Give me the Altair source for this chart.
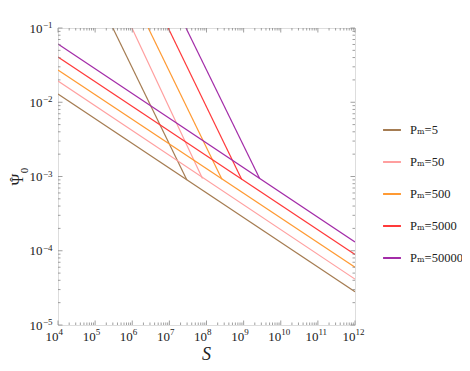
import altair as alt
import pandas as pd

# ---- data ----
PM_LABELS = ["Pₘ=5", "Pₘ=50", "Pₘ=500", "Pₘ=5000", "Pₘ=50000"]
COLORS = ["#a57c52", "#ff9f9f", "#ff9a33", "#ff3a3a", "#a32ca8"]

S_MIN, S_MAX = 1e4, 1e12
PSI_AT_S_MIN = [0.0129, 0.0193, 0.0272, 0.0407, 0.0608]
PSI_AT_S_MAX = [2.8e-5, 4.15e-5, 6.0e-5, 8.9e-5, 1.31e-4]
STEEP_TOP_S = [3.0e5, 9.8e5, 2.7e6, 9.3e6, 2.8e7]
STEEP_TOP_PSI = [0.1, 0.1, 0.1, 0.1, 0.1]
CORNER_S = [2.96e7, 7.8e7, 2.6e8, 8.9e8, 2.7e9]
CORNER_PSI = [9.0e-4, 9.4e-4, 9.2e-4, 9.1e-4, 9.4e-4]

X_TICKS = [1e4, 1e5, 1e6, 1e7, 1e8, 1e9, 1e10, 1e11, 1e12]
X_EXP = ["4", "5", "6", "7", "8", "9", "10", "11", "12"]
Y_TICKS = [1e-5, 1e-4, 1e-3, 1e-2, 1e-1]
Y_EXP = ["−5", "−4", "−3", "−2", "−1"]
MINOR_MULT = [2, 3, 4, 5, 6, 7, 8, 9]
BASE = "10"
X_TITLE = "S"
Y_TITLE_MAIN, Y_TITLE_HAT, Y_TITLE_SUB = "Ψ", "ˆ", "0"

W, H = 297, 297
FONT = "Liberation Serif"
TXT = "#222"

rows = []
for i, lab in enumerate(PM_LABELS):
    rows.append(dict(pm=lab, seg=f"{i}a", S=S_MIN, psi=PSI_AT_S_MIN[i], o=0))
    rows.append(dict(pm=lab, seg=f"{i}a", S=S_MAX, psi=PSI_AT_S_MAX[i], o=1))
    rows.append(dict(pm=lab, seg=f"{i}b", S=STEEP_TOP_S[i], psi=STEEP_TOP_PSI[i], o=0))
    rows.append(dict(pm=lab, seg=f"{i}b", S=CORNER_S[i], psi=CORNER_PSI[i], o=1))
df = pd.DataFrame(rows)

xminor = [m * t for t in X_TICKS[:-1] for m in MINOR_MULT]
yminor = [m * t for t in Y_TICKS[:-1] for m in MINOR_MULT]
xt = pd.DataFrame({"S": X_TICKS + xminor, "len": [4.5] * len(X_TICKS) + [2.5] * len(xminor)})
yt = pd.DataFrame({"psi": Y_TICKS + yminor, "len": [4.5] * len(Y_TICKS) + [2.5] * len(yminor)})
xl = pd.DataFrame({"S": X_TICKS, "base": [BASE] * len(X_TICKS), "exp": X_EXP})
yl = pd.DataFrame({"psi": Y_TICKS, "base": [BASE] * len(Y_TICKS), "exp": Y_EXP})

xscale = alt.Scale(type="log", domain=[S_MIN, S_MAX], nice=False)
yscale = alt.Scale(type="log", domain=[1e-5, 1e-1], nice=False)


def X(f="S:Q"):
    return alt.X(f, scale=xscale, axis=None)


def Y(f="psi:Q"):
    return alt.Y(f, scale=yscale, axis=None)


lines = alt.Chart(df).mark_line(strokeWidth=1.2, clip=True).encode(
    x=X(), y=Y(),
    color=alt.Color("pm:N", sort=PM_LABELS,
                    scale=alt.Scale(domain=PM_LABELS, range=COLORS),
                    legend=alt.Legend(title=None, orient="none", legendX=324, legendY=92,
                                      symbolType="stroke", symbolSize=320, symbolStrokeWidth=2,
                                      labelFont="Liberation Serif, DejaVu Serif", labelFontSize=12.5,
                                      labelColor=TXT, labelOffset=8, rowPadding=15, padding=0)),
    detail="seg:N",
    order="o:Q",
)

tc = "#888"
bottom = alt.Chart(xt).transform_calculate(y0=f"{H}", y1=f"{H} - datum.len").mark_rule(color=tc, strokeWidth=0.8).encode(
    x=X(), y=alt.Y("y0:Q", scale=None, axis=None), y2="y1:Q")
top = alt.Chart(xt).transform_calculate(y0="0", y1="datum.len").mark_rule(color=tc, strokeWidth=0.8).encode(
    x=X(), y=alt.Y("y0:Q", scale=None, axis=None), y2="y1:Q")
left = alt.Chart(yt).transform_calculate(x0="0", x1="datum.len").mark_rule(color=tc, strokeWidth=0.8).encode(
    y=Y(), x=alt.X("x0:Q", scale=None, axis=None), x2="x1:Q")
right = alt.Chart(yt).transform_calculate(x0=f"{W}", x1=f"{W} - datum.len").mark_rule(color=tc, strokeWidth=0.8).encode(
    y=Y(), x=alt.X("x0:Q", scale=None, axis=None), x2="x1:Q")

# tick labels: "10" with a raised exponent
xbase = alt.Chart(xl).mark_text(align="right", baseline="alphabetic", dx=0.5, font=FONT,
                                fontSize=13, color=TXT).encode(
    x=X(), y=alt.value(H + 16), text="base:N")
xexp = alt.Chart(xl).mark_text(align="left", baseline="alphabetic", dx=0.5, font=FONT,
                               fontSize=9, color=TXT).encode(
    x=X(), y=alt.value(H + 10), text="exp:N")
ybase = alt.Chart(yl).mark_text(align="right", baseline="alphabetic", dy=4.5, font=FONT,
                                fontSize=13, color=TXT).encode(
    y=Y(), x=alt.value(-15.5), text="base:N")
yexp = alt.Chart(yl).mark_text(align="right", baseline="alphabetic", dy=0, font=FONT,
                               fontSize=9, color=TXT).encode(
    y=Y(), x=alt.value(-5.5), text="exp:N")

# axis titles
ttl = pd.DataFrame({"xt": [X_TITLE], "ym": [Y_TITLE_MAIN], "yh": [Y_TITLE_HAT], "ys": [Y_TITLE_SUB]})
xtitle = alt.Chart(ttl).mark_text(
    font=FONT, fontSize=18, fontStyle="italic", color=TXT, baseline="alphabetic",
    x=W / 2, y=H + 35).encode(text="xt:N")
ytitle_main = alt.Chart(ttl).mark_text(
    font=FONT, fontSize=16, color=TXT, angle=270, baseline="middle",
    x=-40, y=H / 2 + 3).encode(text="ym:N")
ytitle_hat = alt.Chart(ttl).mark_text(
    font=FONT, fontSize=15, color=TXT, angle=270, baseline="middle",
    x=-43.5, y=H / 2 + 3).encode(text="yh:N")
ytitle_sub = alt.Chart(ttl).mark_text(
    font=FONT, fontSize=11, color=TXT, angle=270, baseline="middle",
    x=-33, y=H / 2 - 6).encode(text="ys:N")

chart = alt.layer(lines, bottom, top, left, right, xbase, xexp, ybase, yexp,
                  xtitle, ytitle_main, ytitle_hat, ytitle_sub).properties(
    width=W, height=H,
    autosize=alt.AutoSizeParams(type="none"),
    padding={"left": 50, "top": 20, "right": 107, "bottom": 38},
).configure_view(stroke="#999", strokeWidth=1).configure(background="white")

chart.save("out.html", embed_options={"renderer": "svg", "actions": False})
